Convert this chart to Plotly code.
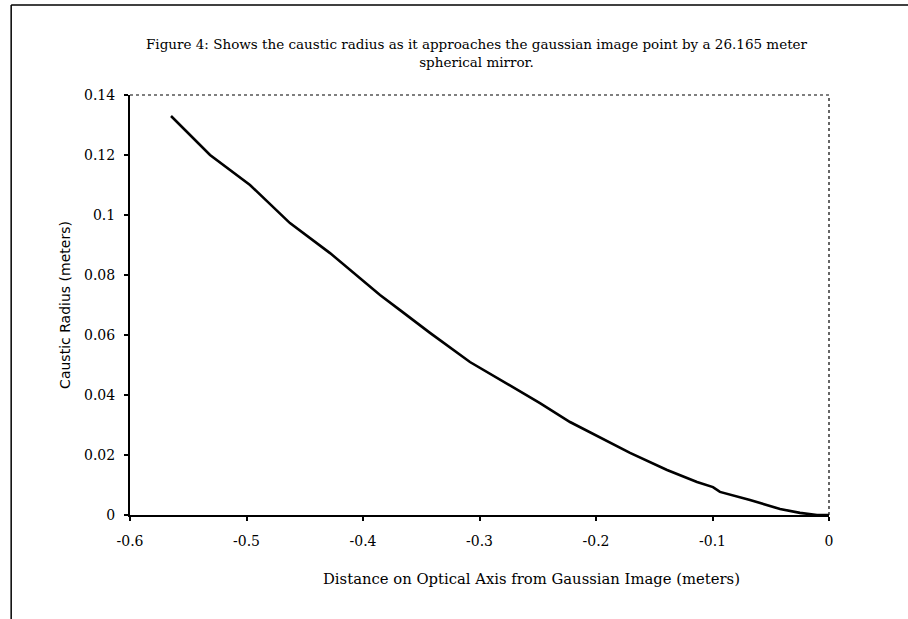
import plotly.graph_objects as go

distance = [-0.5648, -0.5313, -0.497, -0.4627, -0.4283, -0.3854, -0.3682, -0.3425,
            -0.3082, -0.2867, -0.2481, -0.2223, -0.188, -0.1708, -0.139, -0.1133,
            -0.0996, -0.0936, -0.0678, -0.042, -0.0249, -0.0103, 0.0]
radius = [0.133, 0.120, 0.110, 0.0973, 0.0873, 0.0733, 0.0683, 0.0607,
          0.051, 0.046, 0.0373, 0.031, 0.0243, 0.0207, 0.015, 0.011,
          0.0093, 0.0077, 0.005, 0.002, 0.0007, 0.0, 0.0]

x_ticks = [-0.6, -0.5, -0.4, -0.3, -0.2, -0.1, 0]
x_tick_text = ["-0.6", "-0.5", "-0.4", "-0.3", "-0.2", "-0.1", "0"]
y_ticks = [0, 0.02, 0.04, 0.06, 0.08, 0.1, 0.12, 0.14]
y_tick_text = ["0", "0.02", "0.04", "0.06", "0.08", "0.1", "0.12", "0.14"]

title_text = ("Figure 4: Shows the caustic radius as it approaches the gaussian image point by a 26.165 meter"
              "<br>spherical mirror.")
x_title = "Distance on Optical Axis from Gaussian Image (meters)"
y_title = "Caustic Radius (meters)"

serif = "DejaVu Serif, Liberation Serif, serif"

fig = go.Figure()
fig.add_trace(go.Scatter(x=distance, y=radius, mode="lines",
                         line=dict(color="black", width=2.6), showlegend=False))

fig.update_layout(
    width=908, height=619,
    margin=dict(l=130, r=79, t=95, b=104),
    paper_bgcolor="white", plot_bgcolor="white",
    font=dict(family=serif, color="black", size=13),
    xaxis=dict(range=[-0.6, 0], tickvals=x_ticks, ticktext=x_tick_text,
               showgrid=False, zeroline=False, showline=True, linecolor="black",
               linewidth=2, ticks="outside", ticklen=4, tickwidth=1.5, tickcolor="black",
               tickfont=dict(family=serif, size=14), ticklabelstandoff=8),
    yaxis=dict(range=[0, 0.14], tickvals=y_ticks, ticktext=y_tick_text,
               showgrid=False, zeroline=False, showline=True, linecolor="black",
               linewidth=2, ticks="outside", ticklen=4, tickwidth=1.5, tickcolor="black",
               tickfont=dict(family=serif, size=14), ticklabelstandoff=6,
               title=dict(text=y_title, font=dict(family="DejaVu Sans, sans-serif", size=14,
                                                 color="black"),
                          standoff=10)),
    annotations=[
        dict(text=title_text, xref="paper", yref="paper", x=0.497, y=1.1,
             xanchor="center", yanchor="middle", showarrow=False,
             font=dict(family=serif, size=13.5), align="center"),
        dict(text=x_title, xref="paper", yref="paper", x=0.574, y=-0.151,
             xanchor="center", yanchor="middle", showarrow=False,
             font=dict(family=serif, size=14.8)),
    ],
    shapes=[
        dict(type="line", xref="paper", yref="paper", x0=0, x1=1, y0=1, y1=1,
             line=dict(color="black", width=1.2, dash="dot")),
        dict(type="line", xref="paper", yref="paper", x0=1, x1=1, y0=0, y1=1,
             line=dict(color="black", width=1.2, dash="dot")),
        dict(type="line", xref="paper", yref="paper", x0=-0.170, x1=1.12, y0=1.214, y1=1.214,
             line=dict(color="black", width=1.5)),
        dict(type="line", xref="paper", yref="paper", x0=-0.170, x1=-0.170, y0=-0.26, y1=1.214,
             line=dict(color="black", width=1.5)),
    ],
)

fig.write_html("out.html", config={"displayModeBar": False},
               post_script="document.body.style.margin='0';")
